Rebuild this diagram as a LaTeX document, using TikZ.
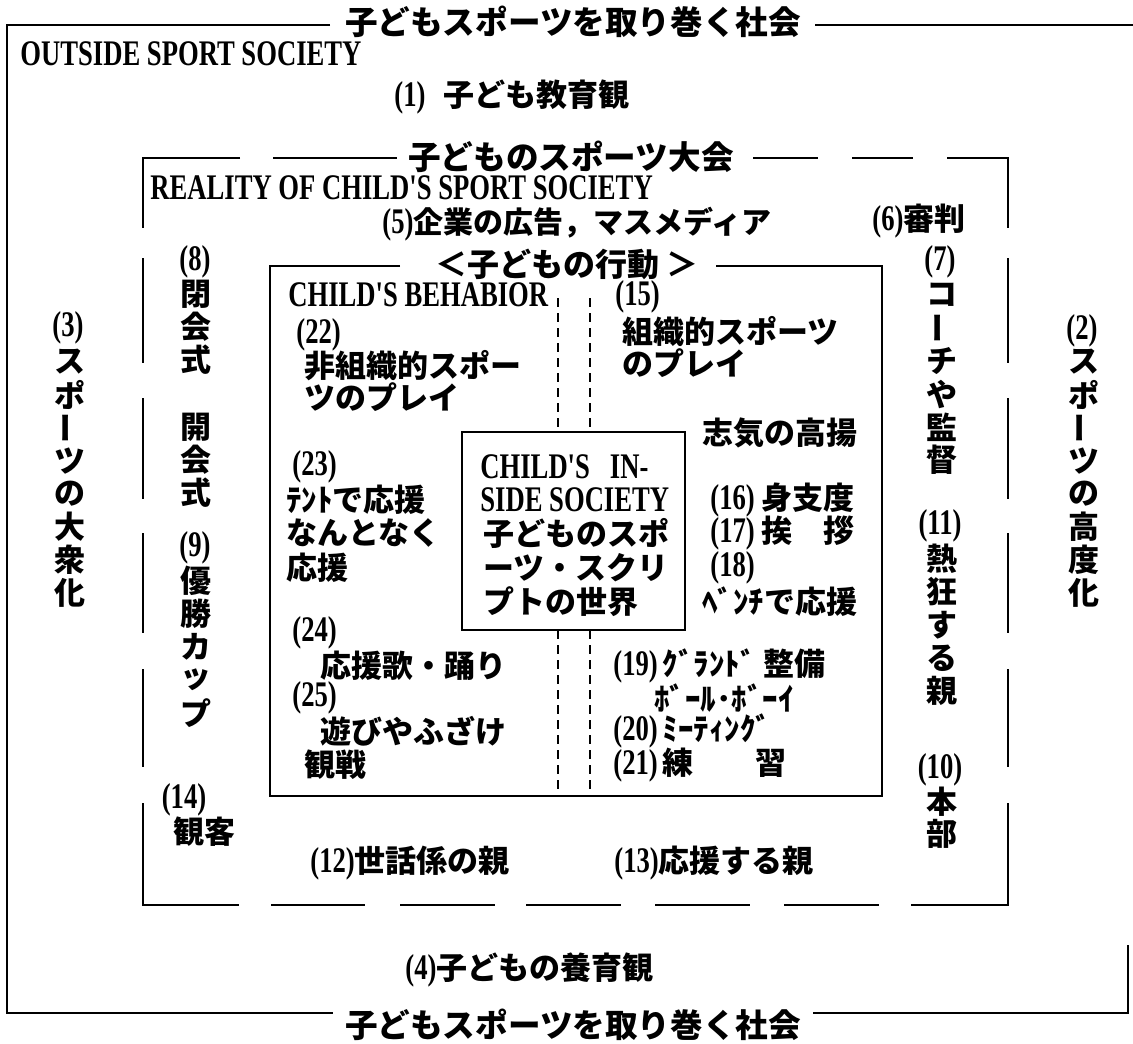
\documentclass[tikz,border=0pt]{standalone}
\usepackage{fontspec}
\usepackage{graphicx}
\newfontfamily\jp{Noto Sans CJK JP}
\newfontfamily\en[FakeStretch=0.74]{Liberation Serif}
\newcommand\num[1]{{\en\bfseries\fontsize{18}{20}\selectfont #1}}
\newcommand\vbar{\rotatebox[origin=c]{90}{ー}}
\newcommand\vchars[5]{%
  \foreach \ch [count=\i from 0] in {#5} {\node[jt] (#1\i) at (#2,{#3+\i*#4}) {\ch};}}
\tikzset{
  frame/.style={line width=1pt},
  midframe/.style={line width=1.4pt},
  inframe/.style={line width=1.2pt},
  dotl/.style={line width=0.8pt, dash pattern=on 4.5pt off 3pt},
  jt/.style={inner sep=0pt, font=\jp\bfseries\fontsize{15.5}{18}\selectfont},
  et/.style={inner sep=0pt, font=\en\bfseries\fontsize{18}{20}\selectfont},
  eb/.style={inner sep=0pt, font=\en\bfseries\fontsize{18}{20}\selectfont},
  ttl/.style={inner sep=0pt, font=\jp\bfseries\fontsize{16.3}{18}\selectfont},
}
\begin{document}
\begin{tikzpicture}[x=0.5pt,y=-0.5pt]
\useasboundingbox[fill=white] (0,0) rectangle (1133,1043);
% outer frame
\draw[frame] (330,25) -- (7,25) -- (7,1013) -- (333,1013);
\draw[frame] (815,25) -- (1133,25);
\draw[frame] (813,1013) -- (1128,1013) -- (1128,945);
\node[ttl] (ttop) at (573,22) {子どもスポーツを取り巻く社会};
\node[ttl] (tbot) at (573,1025) {子どもスポーツを取り巻く社会};
\node[et,anchor=west] (outside) at (20,54) {OUTSIDE SPORT SOCIETY};
\node[jt,anchor=west] (t1) at (394,97) {\num{(1)}\hspace{9pt}子ども教育観};
\node[jt,anchor=west] (t4) at (405,970) {\num{(4)}子どもの養育観};
% middle dashed frame
\draw[midframe] (240,158) -- (143,158) -- (143,228);
\draw[midframe] (273,158) -- (397,158);
\draw[midframe] (753,158) -- (818,158);
\draw[midframe] (852,158) -- (913,158);
\draw[midframe] (947,158) -- (1008,158) -- (1008,228);
\foreach \a/\b in {258/363,398/499,533/633,669/767} {
  \draw[midframe] (143,\a) -- (143,\b);
  \draw[midframe] (1008,\a) -- (1008,\b);
}
\draw[midframe] (143,803) -- (143,905) -- (239,905);
\draw[midframe] (1008,803) -- (1008,905) -- (911,905);
\foreach \a/\b in {271/365,400/495,526/621,655/750,784/879} {
  \draw[midframe] (\a,905) -- (\b,905);
}
\node[ttl] (tmid) at (571,157) {子どものスポーツ大会};
\node[et,anchor=west] (reality) at (150,188) {REALITY OF CHILD'S SPORT SOCIETY};
\node[jt,anchor=west,font=\jp\bfseries\fontsize{15}{18}\selectfont] (t5) at (382,224) {\num{(5)}企業の広告，マスメディア};
\node[jt,anchor=west] (t6) at (872,221) {\num{(6)}審判};
% left columns
\node[eb] (n3) at (68,328) {(3)};
\vchars{s3}{70}{362}{33}{ス,ポ,\vbar,ツ,の,大,衆,化}
\node[eb] (n8) at (195,262) {(8)};
\vchars{s8a}{196}{294}{33}{閉,会,式}
\vchars{s8b}{196}{427}{33}{開,会,式}
\node[eb] (n9) at (195,548) {(9)};
\vchars{s9}{196}{581}{33}{優,勝,カ,ッ,プ}
\node[eb] (n14) at (184,800) {(14)};
\node[jt] (t14) at (204,832) {観客};
% right columns
\node[eb] (n2) at (1082,331) {(2)};
\vchars{s2}{1084}{362}{33}{ス,ポ,\vbar,ツ,の,高,度,化}
\node[eb] (n7) at (940,262) {(7)};
\vchars{s7}{942}{295}{33}{コ,\vbar,チ,や,監,督}
\node[eb] (n11) at (940,526) {(11)};
\vchars{s11}{942}{559}{33}{熱,狂,す,る,親}
\node[eb] (n10) at (940,770) {(10)};
\vchars{s10}{942}{802}{32}{本,部}
% inner frame
\draw[inframe] (400,266) -- (270,266) -- (270,796) -- (882,796) -- (882,266) -- (716,266);
\node[ttl,font=\jp\bfseries\fontsize{16}{18}\selectfont] (tin) at (567,264) {＜子どもの行動 ＞};
\draw[dotl] (558,298) -- (558,432);
\draw[dotl] (590,298) -- (590,432);
\draw[dotl] (558,630) -- (558,796);
\draw[dotl] (590,630) -- (590,796);
% center box
\draw[inframe] (462,432) rectangle (685,630);
\node[et,anchor=west] (c1) at (480,467) {CHILD'S\ \ \ IN-};
\node[et,anchor=west] (c2) at (480,500) {SIDE SOCIETY};
\node[jt,anchor=west] (c3) at (483,533) {子どものスポ};
\node[jt,anchor=west] (c4) at (483,568) {ーツ・スクリ};
\node[jt,anchor=west] (c5) at (483,602) {プトの世界};
% inner left
\node[et,anchor=west] (cb) at (288,295) {CHILD'S BEHABIOR};
\node[et,anchor=west] (n22) at (296,335) {(22)};
\node[jt,anchor=west] (t22a) at (304,366) {非組織的スポー};
\node[jt,anchor=west] (t22b) at (304,397) {ツのプレイ};
\node[et,anchor=west] (n23) at (292,467) {(23)};
\node[jt,anchor=west] (t23a) at (286,500) {ﾃﾝﾄで応援};
\node[jt,anchor=west] (t23b) at (286,533) {なんとなく};
\node[jt,anchor=west] (t23c) at (286,568) {応援};
\node[et,anchor=west] (n24) at (292,633) {(24)};
\node[jt,anchor=west] (t24) at (320,666) {応援歌・踊り};
\node[et,anchor=west] (n25) at (292,698) {(25)};
\node[jt,anchor=west] (t25a) at (320,731) {遊びやふざけ};
\node[jt,anchor=west] (t25b) at (304,765) {観戦};
% inner right
\node[et,anchor=west] (n15) at (615,297) {(15)};
\node[jt,anchor=west] (t15a) at (622,332) {組織的スポーツ};
\node[jt,anchor=west] (t15b) at (622,363) {のプレイ};
\node[jt,anchor=west] (shiki) at (702,433) {志気の高揚};
\node[jt,anchor=west] (t16) at (710,500) {\num{(16)}\ 身支度};
\node[jt,anchor=west] (t17) at (710,533) {\num{(17)}\ 挨　拶};
\node[et,anchor=west] (n18) at (710,568) {(18)};
\node[jt,anchor=west] (t18) at (702,602) {ﾍﾞﾝﾁで応援};
\node[jt,anchor=west] (t19) at (613,666) {\num{(19)}\,ｸﾞﾗﾝﾄﾞ\ 整備};
\node[jt,anchor=west] (t19b) at (654,698) {ﾎﾞｰﾙ･ﾎﾞｰｲ};
\node[jt,anchor=west] (t20) at (613,731) {\num{(20)}\,ﾐｰﾃｨﾝｸﾞ};
\node[jt,anchor=west] (t21) at (613,765) {\num{(21)}\,練　　習};
% bottom of middle frame
\node[jt,anchor=west] (t12) at (310,863) {\num{(12)}世話係の親};
\node[jt,anchor=west] (t13) at (614,863) {\num{(13)}応援する親};
\end{tikzpicture}
\end{document}
